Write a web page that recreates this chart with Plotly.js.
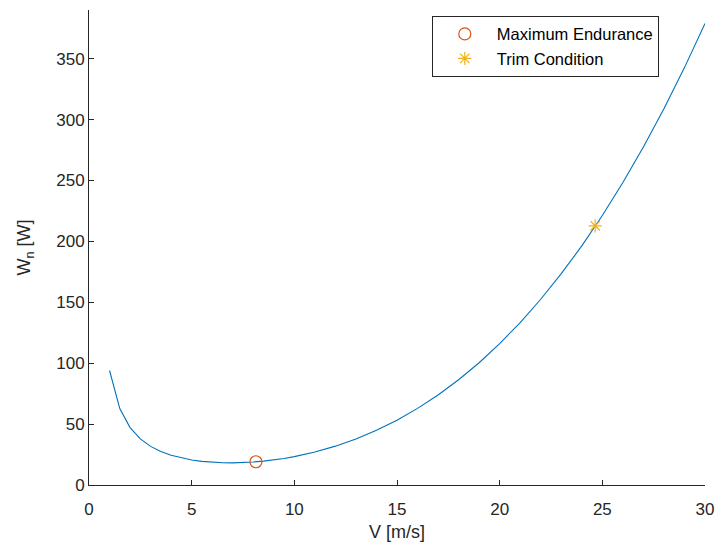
<!DOCTYPE html>
<html>
<head>
<meta charset="utf-8">
<script src="https://cdn.plot.ly/plotly-3.0.1.min.js"></script>
<style>html,body{margin:0;padding:0;background:#fff;}#chart{width:718px;height:544px;}</style>
</head>
<body>
<div id="chart"></div>
<script>
// Power curve W_n vs V
const speedV = [1, 1.5, 2, 2.5, 3, 3.5, 4, 4.5, 5, 5.5, 6, 6.5, 7, 7.5, 8, 8.5, 9, 9.5, 10,
  11, 12, 13, 14, 15, 16, 17, 18, 19, 20, 21, 22, 23, 24, 25, 26, 27, 28, 29, 30];
const powerW = [94.0, 62.7, 47.1, 37.8, 31.7, 27.5, 24.4, 22.2, 20.5, 19.4, 18.7, 18.3, 18.2, 18.4, 18.9, 19.6, 20.6, 21.8, 23.3,
  27.1, 31.9, 37.8, 44.9, 53.2, 62.9, 73.9, 86.4, 100.4, 116.1, 133.4, 152.5, 173.5, 196.3, 221.3, 248.3, 277.5, 308.9, 342.7, 379.0];
const maxEndV = [8.13];
const maxEndW = [19.1];
const trimV = [24.65];
const trimW = [212.8];
const xTicks = [0, 5, 10, 15, 20, 25, 30];
const yTicks = [0, 50, 100, 150, 200, 250, 300, 350];

const FONT = "Liberation Sans, Arial, Helvetica, sans-serif";
const AX = "#262626";

const traces = [
  {x: speedV, y: powerW, type: "scatter", mode: "lines", line: {color: "#0072BD", width: 1.1}, showlegend: false, hoverinfo: "skip"},
  {x: maxEndV, y: maxEndW, type: "scatter", mode: "markers", name: "Maximum Endurance",
   marker: {symbol: "circle-open", size: 12, color: "#D95319", line: {width: 1.2, color: "#D95319"}}},
  {x: trimV, y: trimW, type: "scatter", mode: "markers", name: "Trim Condition",
   marker: {symbol: "asterisk-open", size: 11, color: "#EDB120", line: {width: 1.2, color: "#EDB120"}}}
];

const layout = {
  width: 718, height: 544,
  margin: {l: 89, r: 13, t: 10, b: 59},
  paper_bgcolor: "#ffffff", plot_bgcolor: "#ffffff",
  font: {family: FONT, size: 16, color: AX},
  showlegend: true,
  xaxis: {
    range: [0, 30], tickvals: xTicks, ticktext: xTicks.map(String),
    showgrid: false, zeroline: false, showline: true, linecolor: AX, linewidth: 1,
    ticks: "inside", ticklen: 5, tickcolor: AX, tickfont: {family: FONT, size: 17, color: AX},
    ticklabelstandoff: 9,
    title: {text: "V [m/s]", font: {family: FONT, size: 18, color: AX}, standoff: 6},
    automargin: false, mirror: false
  },
  yaxis: {
    range: [0, 390], tickvals: yTicks, ticktext: yTicks.map(String),
    showgrid: false, zeroline: false, showline: true, linecolor: AX, linewidth: 1,
    ticks: "inside", ticklen: 5, tickcolor: AX, tickfont: {family: FONT, size: 17, color: AX},
    title: {text: "W<sub>n</sub> [W]", font: {family: FONT, size: 18, color: AX}, standoff: 20},
    automargin: false, mirror: false
  },
  legend: {
    x: 0.925, xanchor: "right", y: 0.988, yanchor: "top",
    bordercolor: "#262626", borderwidth: 1, bgcolor: "#ffffff",
    font: {family: FONT, size: 16.5, color: "#000000"},
    itemwidth: 54, tracegroupgap: 0
  }
};

Plotly.newPlot("chart", traces, layout, {staticPlot: true, displayModeBar: false});
</script>
</body>
</html>
